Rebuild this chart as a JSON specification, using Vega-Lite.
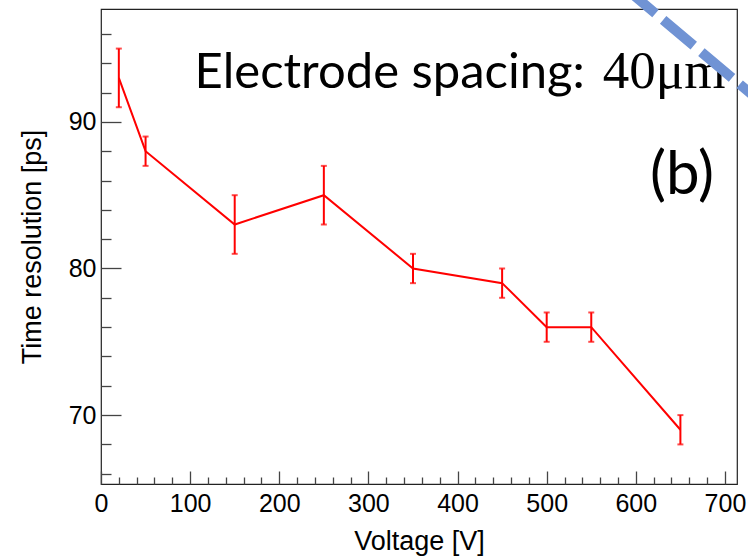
{
  "$schema": "https://vega.github.io/schema/vega-lite/v6.json",
  "width": 636,
  "height": 475,
  "autosize": {"type": "none"},
  "padding": {"left": 101, "top": 9, "right": 11, "bottom": 75},
  "background": "white",
  "config": {
    "view": {"stroke": "#222222", "strokeWidth": 1.2},
    "axis": {
      "domain": false,
      "grid": false,
      "labelFont": "Liberation Sans",
      "titleFont": "Liberation Sans",
      "labelFontSize": 25,
      "titleFontSize": 27,
      "titleFontWeight": "normal",
      "labelColor": "#000000",
      "titleColor": "#000000",
      "tickColor": "#444444",
      "tickWidth": 1.3
    }
  },
  "resolve": {"axis": {"x": "independent", "y": "independent"}},
  "datasets": {
    "pts": [
      {"v": 20, "t": 93, "lo": 91, "hi": 95},
      {"v": 50, "t": 88, "lo": 87, "hi": 89},
      {"v": 150, "t": 83, "lo": 81, "hi": 85},
      {"v": 250, "t": 85, "lo": 83, "hi": 87},
      {"v": 350, "t": 80, "lo": 79, "hi": 81},
      {"v": 450, "t": 79, "lo": 78, "hi": 80},
      {"v": 500, "t": 76, "lo": 75, "hi": 77},
      {"v": 550, "t": 76, "lo": 75, "hi": 77},
      {"v": 650, "t": 69, "lo": 68, "hi": 70}
    ],
    "deco": [{"x": 587.7, "y": 99.15, "x2": 750.6, "y2": 90.82}]
  },
  "layer": [
    {
      "data": {"name": "pts"},
      "mark": {"type": "line", "color": "#ff0000", "strokeWidth": 2},
      "encoding": {
        "x": {
          "field": "v", "type": "quantitative",
          "scale": {"domain": [0, 713.5], "nice": false, "zero": false},
          "axis": {
            "orient": "bottom",
            "title": "Voltage [V]",
            "values": [0,100,200,300,400,500,600,700],
            "tickSize": -13,
            "labelPadding": 20,
            "titlePadding": 12,
            "labelFlush": false,
            "labelOverlap": false
          }
        },
        "y": {
          "field": "t", "type": "quantitative",
          "scale": {"domain": [65.3, 97.7], "nice": false, "zero": false},
          "axis": {
            "orient": "left",
            "title": "Time resolution [ps]",
            "values": [70, 80, 90],
            "tickSize": -20,
            "labelPadding": 25,
            "titlePadding": 22,
            "labelFlush": false,
            "labelOverlap": false
          }
        }
      }
    },
    {
      "data": {"name": "pts"},
      "mark": {"type": "errorbar", "color": "#ff0000", "thickness": 2, "ticks": {"size": 6, "thickness": 2, "color": "#ff0000"}},
      "encoding": {
        "x": {"field": "v", "type": "quantitative", "scale": {"domain": [0, 713.5], "nice": false, "zero": false}, "axis": null},
        "y": {"field": "lo", "type": "quantitative", "scale": {"domain": [65.3, 97.7], "nice": false, "zero": false}, "axis": null},
        "y2": {"field": "hi"}
      }
    },
    {
      "data": {"values": [{"x": 542.8, "y": 92.3, "label": "Electrode spacing:"}]},
      "mark": {"type": "text", "font": "Lato", "fontSize": 49, "align": "right", "baseline": "alphabetic", "color": "#000000"},
      "encoding": {
        "x": {"field": "x", "type": "quantitative", "axis": null},
        "y": {"field": "y", "type": "quantitative", "axis": null},
        "text": {"field": "label"}
      }
    },
    {
      "data": {"values": [{"x": 563, "y": 92.3, "label": "40μm"}]},
      "mark": {"type": "text", "font": "Liberation Serif", "fontSize": 53, "align": "left", "baseline": "alphabetic", "color": "#000000"},
      "encoding": {
        "x": {"field": "x", "type": "quantitative", "axis": null},
        "y": {"field": "y", "type": "quantitative", "axis": null},
        "text": {"field": "label"}
      }
    },
    {
      "data": {"values": [{"x": 687.7, "y": 85.1, "label": "(b)"}]},
      "mark": {"type": "text", "font": "Lato", "fontSize": 60, "align": "right", "baseline": "alphabetic", "color": "#000000"},
      "encoding": {
        "x": {
          "field": "x", "type": "quantitative",
          "axis": {
            "orient": "bottom",
            "title": null,
            "labels": false,
            "values": [20,40,60,80,120,140,160,180,220,240,260,280,320,340,360,380,420,440,460,480,520,540,560,580,620,640,660,680],
            "tickSize": -7
          }
        },
        "y": {
          "field": "y", "type": "quantitative",
          "axis": {
            "orient": "left",
            "title": null,
            "labels": false,
            "values": [66,68,72,74,76,78,82,84,86,88,92,94,96],
            "tickSize": -10
          }
        },
        "text": {"field": "label"}
      }
    },
    {
      "data": {"name": "deco"},
      "mark": {"type": "rule", "color": "#7093d4", "strokeWidth": 10, "strokeDash": [40, 10], "strokeCap": "butt", "clip": false},
      "encoding": {
        "x": {"field": "x", "type": "quantitative", "axis": null},
        "y": {"field": "y", "type": "quantitative", "axis": null},
        "x2": {"field": "x2"},
        "y2": {"field": "y2"}
      }
    }
  ]
}
